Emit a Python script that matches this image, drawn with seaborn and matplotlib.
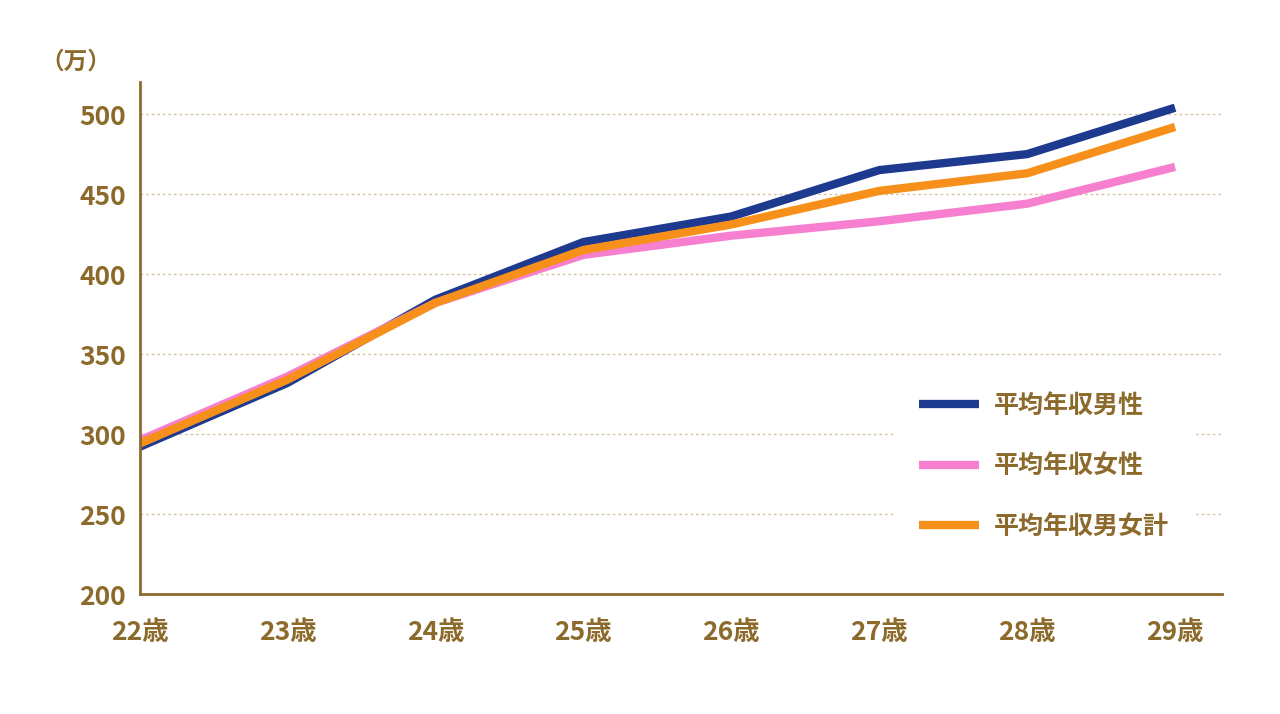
import matplotlib
matplotlib.use("Agg")
import matplotlib.pyplot as plt
import seaborn as sns
import pandas as pd

# values (万円)
ages = [22, 23, 24, 25, 26, 27, 28, 29]
age_labels = [f"{a}歳" for a in ages]
male = [292, 332, 384, 420, 436, 465, 475, 504]
female = [296, 336, 382, 412, 424, 433, 444, 467]
total = [294, 334, 382, 415, 431, 452, 463, 492]
series_names = ["平均年収男性", "平均年収女性", "平均年収男女計"]

brown = "#8c6a2c"
colors = ["#1e3a8f", "#f680cf", "#f7901a"]

plt.rcParams["font.family"] = "Noto Sans CJK JP"

df = pd.DataFrame({"age": ages * 3,
                   "value": male + female + total,
                   "series": [n for n in series_names for _ in ages]})

fig = plt.figure(figsize=(12.8, 7.14), dpi=100)
ax = fig.add_axes([0.109, 0.168, 0.846, 0.717])
sns.lineplot(data=df, x="age", y="value", hue="series", palette=colors,
             linewidth=6, ax=ax, legend=True, solid_capstyle="butt")

ax.set_xlim(22, 29.32)
ax.set_ylim(200, 520)
ax.set_yticks(range(200, 501, 50))
ax.set_xticks(ages)
ax.set_xticklabels(age_labels)
ax.set_xlabel("")
ax.set_ylabel("")
for s in ["top", "right"]:
    ax.spines[s].set_visible(False)
for s in ["left", "bottom"]:
    ax.spines[s].set_color(brown)
    ax.spines[s].set_linewidth(2)
ax.tick_params(colors=brown, labelsize=19, length=0)
ax.tick_params(axis="x", pad=18)
ax.tick_params(axis="y", pad=10)
for lab in ax.get_xticklabels() + ax.get_yticklabels():
    lab.set_fontweight("bold")
ax.grid(axis="y", color="#d8c4a8", linestyle=(0, (2, 2)), linewidth=1)
ax.set_axisbelow(True)
ax.text(-0.092, 1.04, "（万）", transform=ax.transAxes, color=brown,
        fontsize=17, fontweight="bold", va="center")

leg = ax.legend(loc="lower right", bbox_to_anchor=(0.985, 0.035), frameon=True,
                labelspacing=1.45, handlelength=2.4, handletextpad=0.6,
                borderpad=1.0, prop={"weight": "bold", "size": 18})
leg.get_frame().set_facecolor("white")
leg.get_frame().set_edgecolor("white")
leg.get_frame().set_alpha(1)
for t in leg.get_texts():
    t.set_color(brown)
for h in leg.get_lines():
    h.set_linewidth(6)

fig.savefig("out.png", dpi=100, facecolor="white")
